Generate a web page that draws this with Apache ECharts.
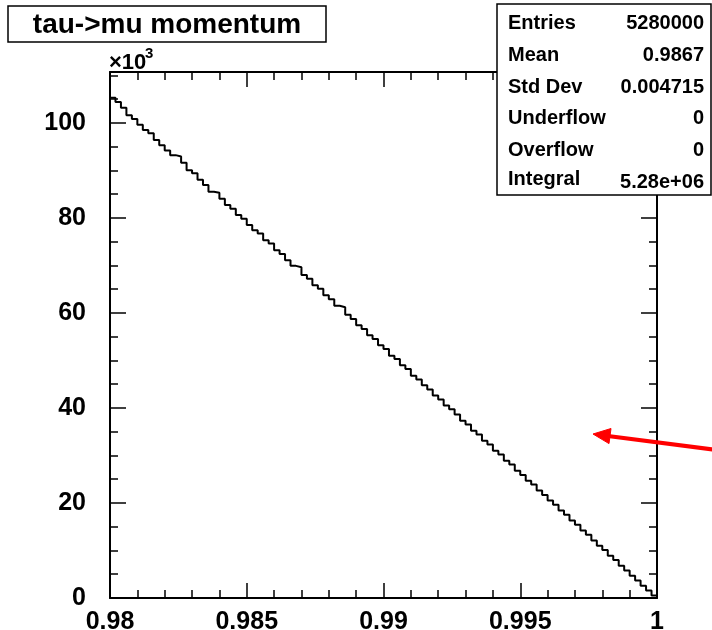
<!DOCTYPE html>
<html>
<head>
<meta charset="utf-8">
<script src="https://cdn.jsdelivr.net/npm/echarts@6/dist/echarts.min.js"></script>
<style>
html,body{margin:0;padding:0;background:#fff;}
#chart{width:712px;height:630px;}
</style>
</head>
<body>
<div id="chart"></div>
<script>
// ---- data ----
const histTitle = 'tau->mu momentum';
const xMin = 0.98;
const xMax = 1.0;
const binWidth = 0.0002;
// bin contents (events), 100 bins
const binCounts = [
  105300,104400,103200,101600,100800, 99600, 98500, 97800, 96400, 95300,
   94200, 93200, 92900, 91600, 90000, 89400, 88000, 86900, 85500, 85300,
   84000, 82700, 81900, 80600, 79800, 78500, 77400, 76700, 75300, 74600,
   73200, 72400, 71100, 69900, 69600, 68000, 67200, 65800, 65100, 63700,
   62900, 61500, 61200, 59600, 58700, 57400, 56600, 55300, 54500, 53200,
   52400, 51000, 50300, 49000, 48200, 46800, 46000, 44800, 43900, 42600,
   41800, 40500, 39700, 38600, 37300, 36500, 35200, 34400, 33100, 32300,
   31000, 30200, 28900, 28100, 26800, 25900, 24700, 23900, 22600, 21700,
   20500, 19600, 18400, 17500, 16300, 15400, 14200, 13300, 12100, 11000,
   10100,  8900,  8000,  6800,  5800,  4700,  3700,  2600,  1600,   500
];
const xTickLabels = ['0.98', '0.985', '0.99', '0.995', '1'];
const yTickLabels = ['0', '20', '40', '60', '80', '100'];
const statNames = ['Entries', 'Mean', 'Std Dev', 'Underflow', 'Overflow', 'Integral'];
const statValues = ['5280000', '0.9867', '0.004715', '0', '0', '5.28e+06'];

// ---- build ----
const FONT = '"Liberation Sans", Arial, Helvetica, sans-serif';
const yMaxVal = 110700;

const stepData = [[xMin, 0]];
binCounts.forEach((c, i) => {
  stepData.push([+(xMin + i * binWidth).toFixed(4), c]);
});
stepData.push([xMax, binCounts[binCounts.length - 1]]);
stepData.push([xMax, 0]);

function xLabel(v) {
  const s = String(+(+v).toFixed(3));
  return xTickLabels.indexOf(s) >= 0 ? s : '';
}
function yLabel(v) {
  const s = String(Math.round(v / 1000));
  return (v % 20000 === 0 && yTickLabels.indexOf(s) >= 0) ? s : '';
}

const black = '#000';
function xAxisDef(pos, showLabel) {
  return {
    type: 'value', position: pos, min: xMin, max: xMax, interval: 0.005,
    axisLine: { show: true, onZero: false, lineStyle: { color: black, width: 2 } },
    axisTick: { show: true, inside: true, length: 15, lineStyle: { color: black, width: 1.5 } },
    minorTick: { show: true, splitNumber: 5, length: 8, lineStyle: { color: black, width: 1.5 } },
    splitLine: { show: false }, minorSplitLine: { show: false },
    axisLabel: { show: showLabel, formatter: xLabel, fontSize: 25, fontWeight: 'bold',
      color: black, fontFamily: FONT, margin: 12, showMinLabel: true, showMaxLabel: true }
  };
}
function yAxisDef(pos, interval, tickLen, showLine, showLabel) {
  return {
    type: 'value', position: pos, min: 0, max: yMaxVal, interval: interval,
    axisLine: { show: showLine, onZero: false, lineStyle: { color: black, width: 2 } },
    axisTick: { show: true, inside: true, length: tickLen, lineStyle: { color: black, width: 1.5 } },
    splitLine: { show: false },
    axisLabel: { show: showLabel, formatter: yLabel, fontSize: 25, fontWeight: 'bold',
      color: black, fontFamily: FONT, margin: 24, padding: [5, 0, 0, 0], showMaxLabel: false }
  };
}

const statGraphics = [];
const rowY = [23, 55, 87, 118, 150, 179];
const valY = [23, 55, 87, 118, 150, 182];
statNames.forEach((n, i) => {
  statGraphics.push({ type: 'text', z: 101, style: { x: 508, y: rowY[i], text: n,
    fill: black, font: 'bold 20px ' + FONT, textAlign: 'left', textVerticalAlign: 'middle' } });
  statGraphics.push({ type: 'text', z: 101, style: { x: 704, y: valY[i], text: statValues[i],
    fill: black, font: 'bold 20px ' + FONT, textAlign: 'right', textVerticalAlign: 'middle' } });
});

const chart = echarts.init(document.getElementById('chart'), null, { renderer: 'canvas' });
chart.setOption({
  animation: false,
  backgroundColor: '#fff',
  grid: { left: 110, right: 55, top: 72, bottom: 32, containLabel: false, outerBoundsMode: 'none' },
  xAxis: [xAxisDef('bottom', true), xAxisDef('top', false)],
  yAxis: [
    yAxisDef('left', 20000, 16, true, true),
    yAxisDef('left', 5000, 8, false, false),
    yAxisDef('right', 20000, 16, true, false),
    yAxisDef('right', 5000, 8, false, false)
  ],
  series: [{
    type: 'line', xAxisIndex: 0, yAxisIndex: 0, step: 'end', symbol: 'none',
    data: stepData, lineStyle: { color: black, width: 2 }, z: 3
  }],
  graphic: [
    // title box
    { type: 'rect', z: 100, shape: { x: 8, y: 6, width: 318, height: 36 },
      style: { fill: '#fff', stroke: black, lineWidth: 1.5 } },
    { type: 'text', z: 101, style: { x: 167, y: 25, text: histTitle, fill: black,
      font: 'bold 28px ' + FONT, textAlign: 'center', textVerticalAlign: 'middle' } },
    // exponent
    { type: 'text', z: 101, style: { x: 109, y: 63, text: '\u00d710', fill: black,
      font: 'bold 22px ' + FONT, textAlign: 'left', textVerticalAlign: 'middle' } },
    { type: 'text', z: 101, style: { x: 145, y: 54, text: '3', fill: black,
      font: 'bold 15px ' + FONT, textAlign: 'left', textVerticalAlign: 'middle' } },
    // stats box
    { type: 'rect', z: 100, shape: { x: 497, y: 4, width: 214, height: 191 },
      style: { fill: '#fff', stroke: black, lineWidth: 1.5 } },
    ...statGraphics,
    // red arrow
    { type: 'line', z: 102, shape: { x1: 713, y1: 449.5, x2: 606, y2: 435.8 },
      style: { stroke: '#ff0000', lineWidth: 4 } },
    { type: 'polygon', z: 102, shape: { points: [[593, 434], [611, 428.5], [609, 443.6]] },
      style: { fill: '#ff0000', stroke: '#ff0000', lineWidth: 1 } }
  ]
});
</script>
</body>
</html>
